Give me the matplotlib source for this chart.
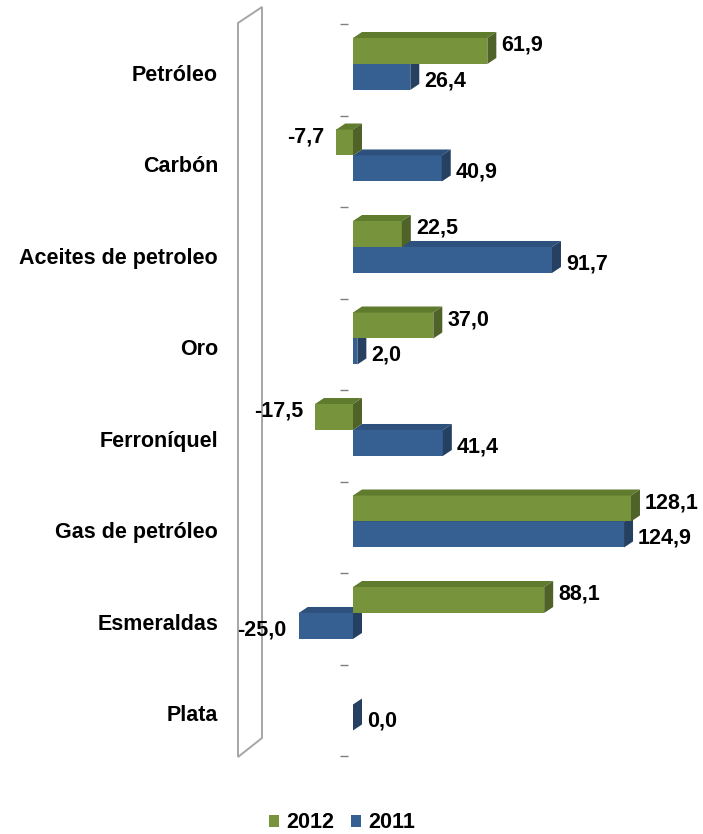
import numpy as np
import matplotlib
matplotlib.use("Agg")
import matplotlib.pyplot as plt
from matplotlib.patches import Polygon
from matplotlib.lines import Line2D
from matplotlib.patches import Patch

plt.rcParams['font.family'] = ['Liberation Sans', 'DejaVu Sans']

categories = ["Petróleo", "Carbón", "Aceites de petroleo", "Oro",
              "Ferroníquel", "Gas de petróleo", "Esmeraldas", "Plata"]
v2012 = [61.9, -7.7, 22.5, 37.0, -17.5, 128.1, 88.1, np.nan]
v2011 = [26.4, 40.9, 91.7, 2.0, 41.4, 124.9, -25.0, 0.0]
labels2012 = ["61,9", "-7,7", "22,5", "37,0", "-17,5", "128,1", "88,1", ""]
labels2011 = ["26,4", "40,9", "91,7", "2,0", "41,4", "124,9", "-25,0", "0,0"]

W, H = 703, 834
fig = plt.figure(figsize=(W / 100, H / 100), dpi=100)

# axes geometry (pixels)
ax_left_px, ax_right_px = 262, 703
ax_top_px, ax_bot_px = 0, 780
ax = fig.add_axes([ax_left_px / W, 1 - ax_bot_px / H,
                   (ax_right_px - ax_left_px) / W, (ax_bot_px - ax_top_px) / H])
ax.patch.set_alpha(0)

px_per_unit = 2.17
zero_px = 353
xmin = (ax_left_px - zero_px) / px_per_unit
xmax = (ax_right_px - zero_px) / px_per_unit
ax.set_xlim(xmin, xmax)

cat_px = 91.5
c0 = 69.75
ax.set_ylim((ax_bot_px - c0) / cat_px, (ax_top_px - c0) / cat_px)  # inverted

n = len(categories)
ypos = np.arange(n)
bh = 0.284
off_g = -0.205
off_b = 0.079
dx = 9 / px_per_unit
dy = 6 / cat_px

colors = {
    "2012": dict(front="#77933C", top="#5F7B2E", side="#4F6228"),
    "2011": dict(front="#376092", top="#2D507C", side="#254061"),
}


def draw_series(vals, offset, col, zb):
    vals = np.asarray(vals, dtype=float)
    mask = ~np.isnan(vals)
    yc = ypos + offset
    ax.barh(yc[mask], vals[mask], height=bh, color=col["front"],
            edgecolor="none", zorder=zb)
    for v, y in zip(vals[mask], yc[mask]):
        x0, x1 = min(0, v), max(0, v)
        ytop = y - bh / 2
        ybot = y + bh / 2
        top = Polygon([(x0, ytop), (x1, ytop), (x1 + dx, ytop - dy), (x0 + dx, ytop - dy)],
                      closed=True, facecolor=col["top"], edgecolor="none", zorder=zb)
        side = Polygon([(x1, ytop), (x1, ybot), (x1 + dx, ybot - dy), (x1 + dx, ytop - dy)],
                       closed=True, facecolor=col["side"], edgecolor="none", zorder=zb)
        ax.add_patch(top)
        ax.add_patch(side)


draw_series(v2011, off_b, colors["2011"], 2)
draw_series(v2012, off_g, colors["2012"], 3)

fs = 15.5


def add_labels(vals, labs, yoff):
    for v, lab, y in zip(vals, labs, ypos):
        if np.isnan(v) or lab == "":
            continue
        if v >= 0:
            ax.annotate(lab, xy=(v, y + yoff), xytext=(14 * 0.72, 0),
                        textcoords="offset points", ha="left", va="center",
                        fontsize=fs, fontweight="bold", zorder=5)
        else:
            ax.annotate(lab, xy=(v, y + yoff), xytext=(-12 * 0.72, 0),
                        textcoords="offset points", ha="right", va="center",
                        fontsize=fs, fontweight="bold", zorder=5)


add_labels(v2012, labels2012, -0.27)
add_labels(v2011, labels2011, 0.12)

# axis: category labels and boundary tick marks
ax.spines[:].set_visible(False)
ax.spines['left'].set_position(('data', (348 - zero_px) / px_per_unit))
ax.set_yticks(ypos + 0.033)
ax.set_yticklabels(categories, fontsize=fs, fontweight="bold")
ax.set_yticks(np.arange(n + 1) - 0.5 - (c0 - 24 - cat_px / 2) / cat_px, minor=True)
ax.tick_params(axis="y", which="major", length=0, pad=(348 - 218) * 0.72)
ax.tick_params(axis="y", which="minor", length=8 * 0.72, width=1.0,
               color="#7F7F7F", direction="out")
ax.set_xticks([])

# 3D side wall (decoration) in figure pixels
wall_pts = [(238, 23), (262, 7), (262, 738), (238, 757)]
wall = Polygon([(x / W, 1 - y / H) for x, y in wall_pts], closed=True,
               transform=fig.transFigure, facecolor="white",
               edgecolor="#A6A6A6", linewidth=1.4, zorder=0)
fig.add_artist(wall)

# legend
handles = [Patch(facecolor=colors["2012"]["front"], edgecolor="none"),
           Patch(facecolor=colors["2011"]["front"], edgecolor="none")]
leg = fig.legend(handles, ["2012", "2011"], loc="center",
                 bbox_to_anchor=(342 / W, 1 - 823 / H), ncol=2, frameon=False,
                 prop=dict(size=fs, weight="bold"),
                 handlelength=0.47, handleheight=0.47, handletextpad=0.33,
                 columnspacing=0.8, borderpad=0)

fig.savefig("out.png", dpi=100)
